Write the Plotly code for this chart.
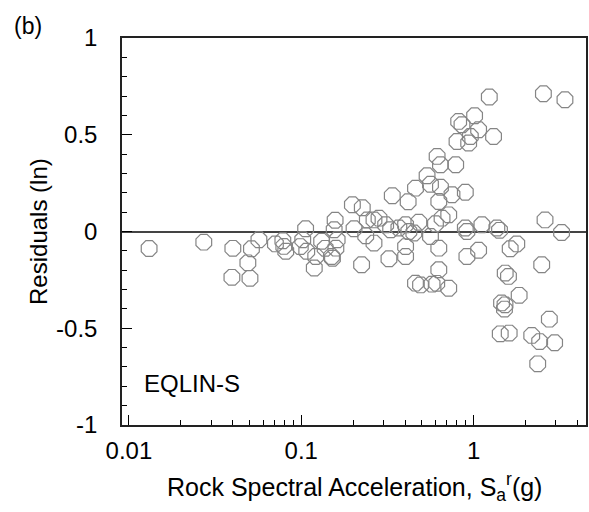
import plotly.graph_objects as go

# Rock spectral acceleration (g) and residuals (ln)
sa_rock = [0.0131, 0.0272, 0.0401, 0.0396, 0.0504, 0.0490, 0.0514, 0.0568, 0.0708, 0.0782,
           0.0792, 0.0813, 0.102, 0.106, 0.0987, 0.1076, 0.119, 0.1213, 0.1313, 0.1376,
           0.150, 0.1588, 0.1615, 0.1572, 0.1552, 0.1517, 0.198, 0.2024, 0.226, 0.2239,
           0.2366, 0.2417, 0.2642, 0.2642, 0.2825, 0.3088, 0.330, 0.3373, 0.3227, 0.3684,
           0.417, 0.4209, 0.403, 0.403, 0.460, 0.460, 0.481, 0.450, 0.492, 0.537,
           0.562, 0.562, 0.574, 0.6006, 0.614, 0.642, 0.642, 0.628, 0.628, 0.628,
           0.611, 0.717, 0.656, 0.717, 0.749, 0.787, 0.801, 0.819, 0.856, 0.895,
           0.895, 0.914, 0.914, 0.936, 0.957, 1.013, 1.069, 1.069, 1.117, 1.233,
           1.305, 1.364, 1.413, 1.452, 1.525, 1.521, 1.51, 1.427, 1.608, 1.593,
           1.630, 1.780, 1.837, 2.173, 2.416, 2.951, 2.75, 2.354, 2.483, 2.54,
           3.388, 2.596, 3.238, 0.403]
residuals = [-0.088, -0.055, -0.087, -0.237, -0.242, -0.162, -0.089, -0.043, -0.064, -0.048,
             -0.077, -0.102, -0.043, 0.014, -0.078, -0.102, -0.189, -0.129, -0.051, -0.087,
             -0.129, -0.086, -0.043, 0.058, 0.009, -0.138, 0.138, 0.014, 0.123, -0.172,
             -0.022, 0.060, 0.060, -0.060, 0.069, 0.035, 0.009, 0.185, -0.141, 0.018,
             0.154, 0.0, -0.078, -0.129, 0.224, -0.267, 0.048, -0.008, -0.276, 0.288,
             0.244, -0.026, -0.272, 0.040, 0.388, 0.345, 0.229, 0.155, -0.086, -0.198,
             -0.268, -0.293, 0.069, 0.086, 0.190, 0.345, 0.465, 0.569, 0.552, 0.203,
             0.018, 0.0, -0.129, 0.457, 0.491, 0.598, 0.526, -0.097, 0.035, 0.695,
             0.491, 0.018, 0.006, -0.369, -0.215, -0.379, -0.401, -0.529, -0.525, -0.232,
             -0.089, -0.064, -0.330, -0.537, -0.569, -0.575, -0.453, -0.684, -0.172, 0.712,
             0.681, 0.060, -0.005, 0.035]

x_ticks = [0.01, 0.1, 1]
x_tick_text = ["0.01", "0.1", "1"]
x_minor = [0.02, 0.03, 0.04, 0.05, 0.06, 0.07, 0.08, 0.09,
           0.2, 0.3, 0.4, 0.5, 0.6, 0.7, 0.8, 0.9, 2, 3, 4]
y_ticks = [-1, -0.5, 0, 0.5, 1]
y_tick_text = ["-1", "-0.5", "0", "0.5", "1"]

FONT = "Arial, Liberation Sans, sans-serif"

fig = go.Figure()
fig.add_trace(go.Scatter(
    x=sa_rock, y=residuals, mode="markers",
    marker=dict(symbol="octagon-open", size=17, color="#858585",
                line=dict(width=1.2, color="#858585")),
    showlegend=False, hoverinfo="skip"))

fig.update_layout(
    width=589, height=512,
    margin=dict(l=122, r=1, t=38, b=87),
    paper_bgcolor="white", plot_bgcolor="white",
    font=dict(family=FONT, color="black"),
    xaxis=dict(type="log", range=[-2.04, 0.652],
               tickmode="array", tickvals=x_ticks, ticktext=x_tick_text,
               ticks="inside", ticklen=10, tickwidth=1.2, tickcolor="black",
               minor=dict(tickmode="array", tickvals=x_minor, ticks="inside",
                          ticklen=5, tickwidth=1.2, tickcolor="black", showgrid=False),
               showgrid=False, zeroline=False,
               showline=True, linecolor="#222", linewidth=1.5, mirror=True,
               tickfont=dict(size=24, family=FONT), ticklabelstandoff=3),
    yaxis=dict(range=[-1, 1],
               tickmode="array", tickvals=y_ticks, ticktext=y_tick_text,
               ticks="inside", ticklen=10, tickwidth=1.2, tickcolor="black",
               minor=dict(dtick=0.1, ticks="inside", ticklen=5, tickwidth=1.2,
                          tickcolor="black", showgrid=False),
               showgrid=False, zeroline=True, zerolinecolor="#444", zerolinewidth=1.5,
               showline=True, linecolor="#222", linewidth=1.5, mirror=True,
               tickfont=dict(size=24, family=FONT), ticklabelstandoff=18),
    annotations=[
        dict(text="Rock Spectral Acceleration, S<sub>a</sub><sup>r</sup>(g)",
             xref="paper", yref="paper", x=0.5, y=-0.16,
             xanchor="center", yanchor="middle", showarrow=False,
             font=dict(size=25, family=FONT)),
        dict(text="Residuals (ln)", xref="paper", yref="paper", x=-0.18, y=0.5,
             xanchor="center", yanchor="middle", textangle=-90, showarrow=False,
             font=dict(size=24, family=FONT)),
        dict(text="(b)", xref="paper", yref="paper", x=-0.2017, y=1.031,
             xanchor="center", yanchor="middle", showarrow=False,
             font=dict(size=23, family=FONT)),
        dict(text="EQLIN-S", xref="paper", yref="paper", x=0.043, y=0.106,
             xanchor="left", yanchor="middle", showarrow=False,
             font=dict(size=24, family=FONT)),
    ],
)

fig.write_html("out.html")
